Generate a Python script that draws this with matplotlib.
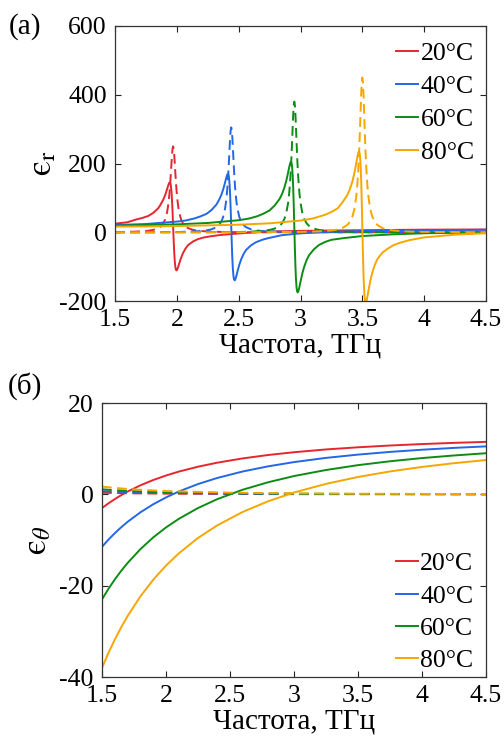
import matplotlib
matplotlib.use("Agg")
import matplotlib.pyplot as plt

plt.rcParams['font.family'] = ['Liberation Serif', 'DejaVu Serif']
plt.rcParams['mathtext.fontset'] = 'stix'
plt.rcParams['axes.unicode_minus'] = False

labels = ['20°C', '40°C', '60°C', '80°C']
colors = ['#e6262e', '#2267e6', '#0c8c12', '#f7a600']

# ---- panel (a): epsilon_r (solid = real part, dashed = imaginary part) ----
f20 = [1.5, 1.55, 1.6,
       1.67, 1.72, 1.77, 1.81, 1.85, 1.87, 1.89, 1.905, 1.92, 1.928, 1.935, 1.939, 1.943, 1.948,
       1.952, 1.957, 1.961, 1.9655, 1.97, 1.9745, 1.979, 1.983, 1.988, 1.992, 1.997, 2.001, 2.005,
       2.012, 2.02, 2.035, 2.05, 2.07, 2.09, 2.13, 2.17, 2.22, 2.27,
       2.35, 2.45, 2.6, 2.8, 3.0, 3.5, 4.0, 4.5]
re20 = [25, 27, 29,
        37, 41.5, 47.5, 56.5, 70, 81.4, 94.6, 107.7, 124.0, 133.5, 140.8, 143.8, 145, 142.4,
        135.1, 117.1, 93.8, 58.5, 17, -24.5, -59.8, -83.1, -101.1, -108.4, -111, -109.8, -106.8,
        -99.5, -90, -73.7, -60.6, -47.4, -37.8, -27, -20, -15, -12,
        -8, -5, -1, 2.5, 4, 6, 7.5, 8]
im20 = [0, 0.5, 1,
        2.0, 2.9, 4.4, 6.9, 12.1, 17.0, 25.6, 36.8, 56.5, 73.1, 93.3, 107.9, 125, 150.3,
        173.1, 203, 225, 243.3, 250, 243.3, 225, 203, 173.1, 150.3, 125, 107.9, 93.3,
        73.1, 56.5, 36.8, 25.6, 17.0, 12.1, 6.9, 4.4, 2.9, 2.0,
        1, 0.5, 0, 0, 0, 0, 0, 0]

f40 = [1.5, 1.75, 2.0, 2.07,
       2.14, 2.19, 2.24, 2.28, 2.32, 2.34, 2.36, 2.375, 2.39, 2.398, 2.405, 2.409, 2.413, 2.418,
       2.422, 2.427, 2.431, 2.4355, 2.44, 2.4445, 2.449, 2.453, 2.458, 2.462, 2.467, 2.471, 2.475,
       2.482, 2.49, 2.505, 2.52, 2.54, 2.56, 2.60, 2.64, 2.69, 2.74,
       2.85, 3.0, 3.25, 3.5, 4.0, 4.5]
re40 = [21, 24, 31, 34,
        40, 46, 53.5, 64.5, 80.5, 93, 108.9, 124.8, 144.6, 156.1, 164.9, 168.5, 170, 166.8,
        158.1, 136.2, 108, 65.3, 15, -35.3, -78, -106.2, -128.1, -136.8, -140, -138.5, -134.9,
        -126.1, -114.6, -94.8, -78.9, -63, -51.4, -38, -29, -22, -17,
        -8.5, -3.2, 1.3, 3.6, 6, 7.2]
im40 = [0, 0, 0.5, 1.5,
        2.5, 3.5, 5.4, 8.4, 14.7, 20.7, 31.2, 44.9, 68.9, 89.2, 113.8, 131.6, 152.5, 183.3,
        211.2, 247.6, 274.5, 296.8, 305, 296.8, 274.5, 247.6, 211.2, 183.3, 152.5, 131.6, 113.8,
        89.2, 68.9, 44.9, 31.2, 20.7, 14.7, 8.4, 5.4, 3.5, 2.5,
        1.5, 0.5, 0, 0, 0, 0]

f60 = [1.5, 1.75, 2.0, 2.25, 2.5, 2.58,
       2.65, 2.70, 2.75, 2.79, 2.83, 2.85, 2.87, 2.885, 2.90, 2.908, 2.915, 2.919, 2.923, 2.928,
       2.932, 2.937, 2.941, 2.9455, 2.95, 2.9545, 2.959, 2.963, 2.968, 2.972, 2.977, 2.981, 2.985,
       2.992, 3.0, 3.015, 3.03, 3.05, 3.07, 3.11, 3.15, 3.20, 3.25,
       3.35, 3.5, 3.75, 4.0, 4.25, 4.5]
re60 = [19, 21, 23, 27, 35, 39.6,
        46.5, 54, 63.5, 77.4, 96.4, 110.6, 130.1, 149.6, 173.9, 187.9, 198.8, 203.2, 205, 201.1,
        190.4, 163.5, 129, 76.6, 15, -46.6, -99, -133.5, -160.4, -171.1, -175, -173.2, -168.8,
        -157.9, -143.9, -119.6, -100.1, -80.6, -66.4, -49, -37, -28, -22,
        -17, -11, -6, -3, -1.5, -0.5]
im60 = [0, 0, 0, 0, 0.5, 1.5,
        3.1, 4.4, 6.7, 10.5, 18.3, 25.8, 38.9, 55.9, 85.8, 111.1, 141.8, 163.9, 190, 228.4,
        263.1, 308.5, 342, 369.7, 380, 369.7, 342, 308.5, 263.1, 228.4, 190, 163.9, 141.8,
        111.1, 85.8, 55.9, 38.9, 25.8, 18.3, 10.5, 6.7, 4.4, 3.1,
        1.5, 0.5, 0, 0, 0, 0]

f80 = [1.5, 1.75, 2.0, 2.25, 2.5, 2.75, 3.0, 3.1,
       3.2, 3.25, 3.3, 3.34, 3.38, 3.40, 3.42, 3.435, 3.45, 3.458, 3.465, 3.469, 3.473, 3.478,
       3.482, 3.487, 3.491, 3.4955, 3.5, 3.5045, 3.509, 3.513, 3.518, 3.522, 3.527, 3.531, 3.535,
       3.542, 3.55, 3.565, 3.58, 3.60, 3.62, 3.66, 3.70, 3.75, 3.80,
       3.88, 4.0, 4.25, 4.5]
re80 = [16.5, 17, 18, 20, 22, 26, 34, 40,
        51, 59, 69.5, 87.2, 109.2, 125.7, 148.3, 170.8, 199, 215.2, 227.8, 232.9, 235, 230.5,
        218.1, 187, 147, 86.4, 15, -56.4, -117, -157, -188.1, -200.5, -205, -202.9, -197.8,
        -185.2, -169, -140.8, -118.3, -95.7, -79.2, -60, -49, -38, -31,
        -23, -15, -7, -3]
im80 = [0, 0, 0, 0, 0, 0.5, 1, 1.8,
        3.6, 5.2, 7.9, 12.5, 21.7, 30.6, 46, 66.2, 101.6, 131.6, 167.9, 194.1, 225, 270.5,
        311.5, 365.3, 405, 437.9, 450, 437.9, 405, 365.3, 311.5, 270.5, 225, 194.1, 167.9,
        131.6, 101.6, 66.2, 46, 30.6, 21.7, 12.5, 7.9, 5.2, 3.6,
        1.8, 1, 0.5, 0]

# ---- panel (б): epsilon_theta ----
fb = [1.5, 1.55, 1.6, 1.65, 1.7, 1.8, 1.9, 2.0, 2.1, 2.25, 2.4, 2.6, 2.8, 3.0,
      3.25, 3.5, 3.75, 4.0, 4.25, 4.5]
reb20 = [-3.0, -1.98, -1.04, -0.18, 0.60, 1.97, 3.13, 4.12, 4.98, 6.05, 6.93, 7.87, 8.62, 9.22,
         9.83, 10.30, 10.69, 11.01, 11.27, 11.49]
reb40 = [-11.5, -9.93, -8.51, -7.21, -6.02, -3.94, -2.18, -0.68, 0.62, 2.25, 3.58, 5.01, 6.14, 7.06,
         7.98, 8.70, 9.29, 9.77, 10.17, 10.50]
reb60 = [-23.0, -20.71, -18.64, -16.75, -15.03, -12.0, -9.44, -7.25, -5.37, -3.0, -1.06, 1.02, 2.66, 4.0,
         5.33, 6.39, 7.24, 7.94, 8.51, 9.0]
reb80 = [-38.0, -34.75, -31.8, -29.11, -26.66, -22.35, -18.71, -15.6, -12.93, -9.55, -6.8, -3.84, -1.5, 0.4,
         2.29, 3.80, 5.01, 6.0, 6.82, 7.51]

fbi = [1.5, 1.6, 1.75, 2.0, 2.5, 3.0, 3.5, 4.0, 4.5]
imb20 = [0.35, 0.29, 0.22, 0.15, 0.08, 0.04, 0.03, 0.02, 0.01]
imb40 = [0.7, 0.58, 0.44, 0.30, 0.15, 0.09, 0.06, 0.04, 0.03]
imb60 = [1.1, 0.91, 0.69, 0.46, 0.24, 0.14, 0.09, 0.06, 0.04]
imb80 = [1.7, 1.40, 1.07, 0.72, 0.37, 0.21, 0.13, 0.09, 0.06]

xticks = [1.5, 2, 2.5, 3, 3.5, 4, 4.5]
xticklabels = ['1.5', '2', '2.5', '3', '3.5', '4', '4.5']
yticks_a = [-200, 0, 200, 400, 600]
yticks_b = [-40, -20, 0, 20]

W, H = 504, 747
fig = plt.figure(figsize=(W / 100, H / 100), dpi=100)
FS = 18.5
lw = 1.4
dash = (5.0, 2.8)


def style(ax):
    ax.set_xlim(1.5, 4.5)
    ax.set_xticks(xticks)
    ax.set_xticklabels(xticklabels)
    ax.tick_params(direction='in', top=True, right=True, length=4, width=0.8,
                   labelsize=FS, pad=6, colors='#222222', labelcolor='black')
    for s in ax.spines.values():
        s.set_linewidth(0.9)
        s.set_color('#333333')
    ax.set_xlabel('Частота, ТГц', fontsize=21, labelpad=1)


# panel a
axa = fig.add_axes([115 / W, 1 - 301 / H, 371 / W, 275 / H])
fa = [f20, f40, f60, f80]
rea = [re20, re40, re60, re80]
ima = [im20, im40, im60, im80]
for f, r, i, c, lab in zip(fa, rea, ima, colors, labels):
    axa.plot(f, r, color=c, lw=lw, label=lab)
    axa.plot(f, i, color=c, lw=lw, ls=(0, dash))
axa.set_ylim(-200, 600)
axa.set_yticks(yticks_a)
style(axa)
axa.set_ylabel('$\\mathrm{\u03f5}_{\\mathrm{r}}$', fontsize=25, labelpad=0)
axa.legend(loc='upper right', bbox_to_anchor=(0.967, 0.94), frameon=False, fontsize=FS,
           handlelength=0.85, handletextpad=0.1, labelspacing=0.38, borderpad=0, borderaxespad=0)
fig.text(9 / W, 1 - 27 / H, '(a)', fontsize=21, va='center', ha='left')

# panel b
axb = fig.add_axes([102 / W, 1 - 677 / H, 384 / W, 274 / H])
reb = [reb20, reb40, reb60, reb80]
imb = [imb20, imb40, imb60, imb80]
for r, i, c, lab in zip(reb, imb, colors, labels):
    axb.plot(fb, r, color=c, lw=lw, label=lab)
    axb.plot(fbi, i, color=c, lw=lw, ls=(0, dash))
axb.set_ylim(-40, 20)
axb.set_yticks(yticks_b)
style(axb)
axb.set_ylabel('$\\mathrm{\u03f5}_{\\theta}$', fontsize=25, labelpad=4)
axb.legend(loc='upper right', bbox_to_anchor=(0.967, 0.455), frameon=False, fontsize=FS,
           handlelength=0.85, handletextpad=0.1, labelspacing=0.36, borderpad=0, borderaxespad=0)
fig.text(8 / W, 1 - 386 / H, '(б)', fontsize=21, va='center', ha='left')

fig.savefig('out.png', dpi=100)
